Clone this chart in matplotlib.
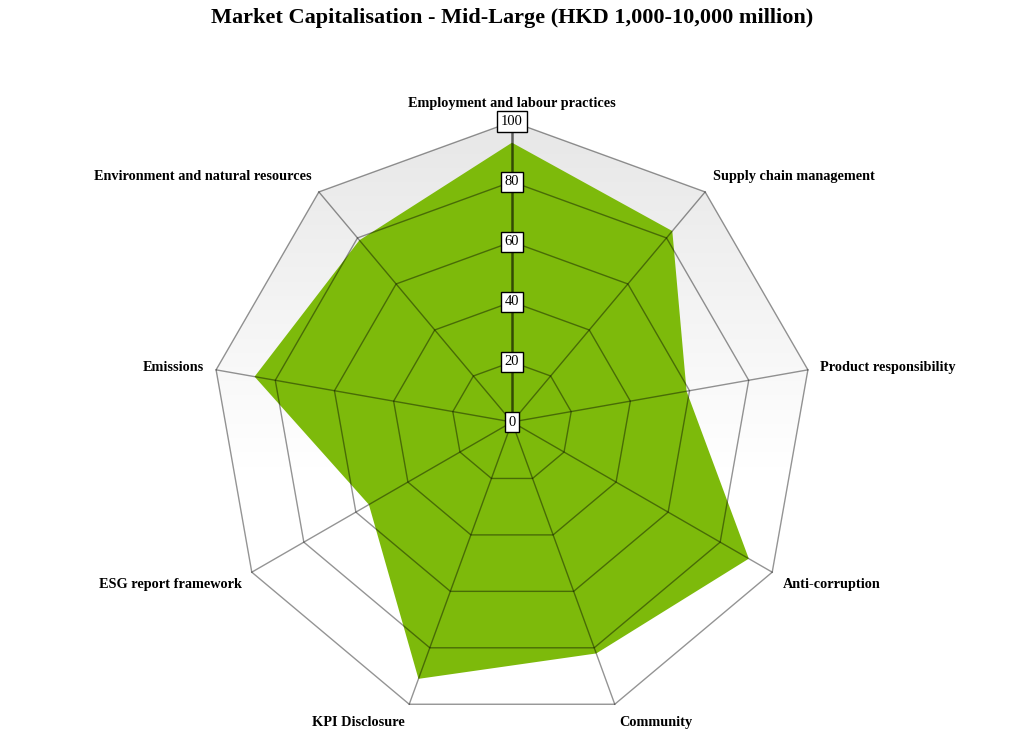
import numpy as np
import matplotlib
matplotlib.use("Agg")
import matplotlib.pyplot as plt
from matplotlib.patches import Polygon

# data
categories = [
    "Employment and labour practices",
    "Supply chain management",
    "Product responsibility",
    "Anti-corruption",
    "Community",
    "KPI Disclosure",
    "ESG report framework",
    "Emissions",
    "Environment and natural resources",
]
values = [93, 83, 59, 91, 82, 91, 55, 87, 79]
ticks = [0, 20, 40, 60, 80, 100]
title = "Market Capitalisation - Mid-Large (HKD 1,000-10,000 million)"

plt.rcParams["font.family"] = ["Liberation Serif", "DejaVu Serif"]

n = len(categories)
ang = np.arange(n) * 2 * np.pi / n   # clockwise from top


def xy(r, a):
    return r * np.sin(a), r * np.cos(a)


fig = plt.figure(figsize=(10.24, 7.53), dpi=100)
ax = fig.add_axes([0, 0, 1, 1])
ax.axis("off")

# gradient background inside the outer polygon: light gray at top -> white in the middle
ox, oy = xy(100, ang)
outer = Polygon(np.column_stack([ox, oy]), closed=True, facecolor="none", edgecolor="none")
ax.add_patch(outer)
yy = np.linspace(-100, 100, 256)
g = 0.905 + 0.095 * np.clip((100 - yy) / 115, 0, 1)
img = np.dstack([g, g, g]).reshape(256, 1, 3)
im = ax.imshow(img, extent=(-100, 100, -100, 100), origin="lower", aspect="auto",
               zorder=0, interpolation="bilinear")
im.set_clip_path(outer)
ax.set_xlim(-170.4, 170.4)
ax.set_ylim(-110.2, 140.5)

# data polygon
vx, vy = xy(np.array(values, dtype=float), ang)
ax.fill(vx, vy, color="#7dba0b", zorder=2, linewidth=0)

# grid rings and spokes
for t in ticks[1:]:
    gx, gy = xy(t, ang)
    ax.plot(np.append(gx, gx[0]), np.append(gy, gy[0]), color="black", alpha=0.42,
            lw=1.0, zorder=3)
for i, a in enumerate(ang):
    sx, sy = xy(np.array([0, 100]), a)
    if i == 0:
        ax.plot(sx, sy, color="black", alpha=0.6, lw=1.8, zorder=3)
    else:
        ax.plot(sx, sy, color="black", alpha=0.42, lw=1.0, zorder=3)

# tick labels on the top spoke
for t in ticks:
    ax.text(0, t, str(t), ha="center", va="center", fontsize=10.5, zorder=5,
            bbox=dict(boxstyle="square,pad=0.25", facecolor="white", edgecolor="black", lw=1))

# category labels
for lab, a in zip(categories, ang):
    lx, ly = xy(104, a)
    if abs(lx) < 1:
        ha = "center"
    elif lx > 0:
        ha = "left"
    else:
        ha = "right"
    if ly > 40:
        va = "bottom"
    elif ly < -40:
        va = "top"
    else:
        va = "center"
    ax.text(lx, ly, lab, ha=ha, va=va, fontsize=10.3, fontweight="bold", color="black")

fig.text(0.5, 0.976, title, ha="center", va="center", fontsize=16, fontweight="bold")

fig.savefig("out.png", dpi=100, facecolor="white")
